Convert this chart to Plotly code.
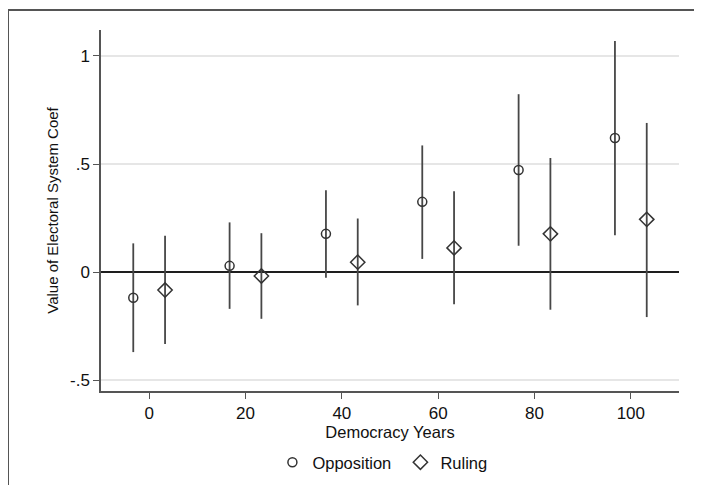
import plotly.graph_objects as go

# Data
opp_years = [-3.3, 16.7, 36.7, 56.7, 76.7, 96.7]
opp_coef = [-0.119, 0.029, 0.177, 0.325, 0.472, 0.620]
opp_lo = [-0.370, -0.170, -0.026, 0.061, 0.122, 0.170]
opp_hi = [0.133, 0.230, 0.379, 0.586, 0.823, 1.069]

rul_years = [3.3, 23.3, 43.3, 63.3, 83.3, 103.3]
rul_coef = [-0.083, -0.018, 0.046, 0.112, 0.177, 0.244]
rul_lo = [-0.333, -0.216, -0.154, -0.149, -0.174, -0.208]
rul_hi = [0.168, 0.180, 0.248, 0.374, 0.528, 0.690]

y_ticks = [-0.5, 0, 0.5, 1]
y_ticklabels = ["-.5", "0", ".5", "1"]
x_ticks = [0, 20, 40, 60, 80, 100]

W, H = 702, 485
OFF = 8  # default page body margin shifts the figure by 8px
ML, MR, MT, MB = 101 - OFF, 23 + OFF, 30 - OFF, 94 + OFF
FONT = "Liberation Sans, Arial, Helvetica, sans-serif"
TXT = "#111111"
BAR = "#474747"
MK = "#333333"

fig = go.Figure()

def add_series(name, xs, ys, lo, hi, symbol, size):
    fig.add_trace(go.Scatter(
        x=xs, y=ys, mode="markers", name=name,
        marker=dict(symbol=symbol, size=size, color=MK, line=dict(width=1.5, color=MK)),
        error_y=dict(type="data", symmetric=False,
                     array=[h - y for h, y in zip(hi, ys)],
                     arrayminus=[y - l for l, y in zip(lo, ys)],
                     width=0, thickness=1.8, color=BAR),
    ))

add_series("Opposition", opp_years, opp_coef, opp_lo, opp_hi, "circle-open", 9)
add_series("Ruling", rul_years, rul_coef, rul_lo, rul_hi, "diamond-open", 11)

pw = W - ML - MR
ph = H - MT - MB
# outer frame (top and left edges visible)
x0 = (8 - OFF - ML) / pw
x1 = (W + 5 - ML) / pw
yt = (H - MB - (10 - OFF)) / ph
yb = (H - MB - (H + 5)) / ph
fig.add_shape(type="line", xref="paper", yref="paper", x0=x0, x1=x1, y0=yt, y1=yt,
              line=dict(color="#555555", width=2))
fig.add_shape(type="line", xref="paper", yref="paper", x0=x0, x1=x0, y0=yt, y1=yb,
              line=dict(color="#555555", width=2))

fig.update_layout(
    width=W, height=H,
    margin=dict(l=ML, r=MR, t=MT, b=MB, pad=0),
    paper_bgcolor="white", plot_bgcolor="white",
    font=dict(family=FONT, size=16, color=TXT),
    showlegend=True,
    legend=dict(orientation="h", x=0.518, xanchor="center", y=-0.198, yanchor="middle",
                font=dict(size=16.5, family=FONT, color=TXT),
                itemwidth=30, entrywidth=83, tracegroupgap=0, bgcolor="rgba(0,0,0,0)"),
    xaxis=dict(range=[-10, 110], tickvals=x_ticks, showgrid=False, zeroline=False,
               showline=True, linecolor="#555555", linewidth=1.5,
               ticks="outside", ticklen=6, tickwidth=1.2, tickcolor="#555555",
               tickfont=dict(size=17, color=TXT),
               title=dict(text="Democracy Years", font=dict(size=16.5, color=TXT), standoff=4)),
    yaxis=dict(range=[-0.55, 1.12], tickvals=y_ticks, ticktext=y_ticklabels,
               showgrid=True, gridcolor="#e6e6e6", gridwidth=1.5,
               zeroline=True, zerolinecolor="#1e1e1e", zerolinewidth=2,
               showline=True, linecolor="#555555", linewidth=1.5,
               ticks="outside", ticklen=6, tickwidth=1.2, tickcolor="#555555",
               tickfont=dict(size=17, color=TXT),
               title=dict(text="Value of Electoral System Coef", font=dict(size=15, color=TXT), standoff=8)),
)

fig.write_html("out.html")
